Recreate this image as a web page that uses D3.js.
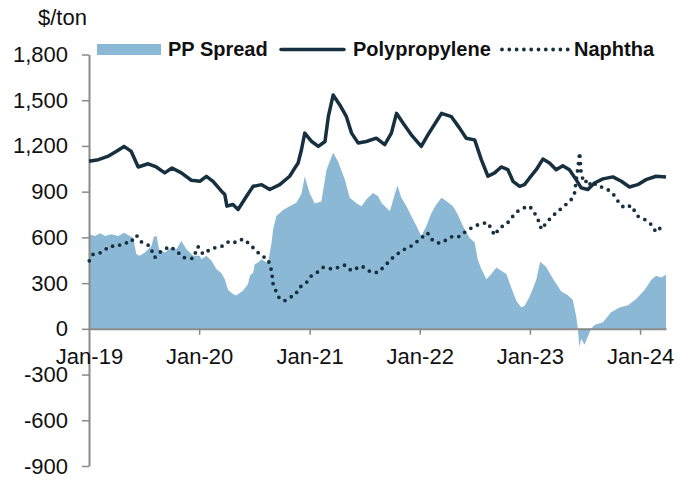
<!DOCTYPE html>
<html><head><meta charset="utf-8">
<script src="https://cdn.jsdelivr.net/npm/d3@7"></script>
<style>body{margin:0;background:#fff}svg{display:block;font-family:"Liberation Sans",Arial,sans-serif}</style>
</head><body><svg id="c" width="691" height="483"></svg>
<script>
const seriesNames = ["PP Spread", "Polypropylene", "Naphtha"];
const yTicks = [-900, -600, -300, 0, 300, 600, 900, 1200, 1500, 1800];
const xTicks = ["2019-01-01","2020-01-01","2021-01-01","2022-01-01","2023-01-01","2024-01-01"];
const unitLabel = "$/ton";

const ppDates = ["2019-01-01","2019-02-01","2019-03-04","2019-04-01","2019-04-27","2019-05-21","2019-06-13","2019-07-16","2019-08-12","2019-09-09","2019-10-03","2019-11-03","2019-12-06","2020-01-03","2020-01-25","2020-02-16","2020-03-15","2020-03-26","2020-04-02","2020-04-22","2020-05-09","2020-06-06","2020-06-28","2020-07-26","2020-08-22","2020-09-24","2020-10-27","2020-11-13","2020-11-24","2020-12-05","2020-12-16","2021-01-08","2021-01-30","2021-02-21","2021-03-04","2021-03-20","2021-04-11","2021-05-03","2021-05-20","2021-06-11","2021-07-08","2021-08-10","2021-09-07","2021-09-29","2021-10-16","2021-11-07","2021-12-04","2022-01-06","2022-01-28","2022-02-25","2022-03-14","2022-04-16","2022-05-13","2022-06-04","2022-07-02","2022-07-24","2022-08-15","2022-09-06","2022-09-28","2022-10-20","2022-11-06","2022-11-28","2022-12-14","2022-12-31","2023-01-22","2023-02-13","2023-03-07","2023-03-29","2023-04-20","2023-05-12","2023-06-03","2023-06-20","2023-07-12","2023-08-03","2023-08-31","2023-10-03","2023-10-31","2023-11-27","2023-12-24","2024-01-21","2024-02-23","2024-03-27"];
const ppValues = [1100,1110,1131,1164,1197,1164,1062,1083,1062,1023,1055,1023,975,968,1001,968,903,881,805,816,783,870,935,946,914,946,1001,1055,1088,1175,1284,1229,1197,1229,1392,1534,1469,1392,1284,1219,1229,1251,1208,1284,1414,1349,1273,1197,1273,1360,1414,1392,1317,1251,1240,1110,1001,1023,1062,1044,968,935,946,990,1044,1114,1088,1044,1070,1044,979,925,914,957,984,997,968,931,946,979,1001,997];

const naDates = ["2019-01-02","2019-01-15","2019-02-12","2019-03-11","2019-04-02","2019-04-30","2019-05-16","2019-06-07","2019-06-24","2019-07-21","2019-08-07","2019-08-29","2019-09-26","2019-10-18","2019-11-09","2019-12-12","2019-12-28","2020-01-14","2020-02-11","2020-03-20","2020-04-11","2020-05-03","2020-05-25","2020-06-17","2020-07-08","2020-07-26","2020-08-16","2020-08-28","2020-09-02","2020-09-13","2020-09-24","2020-10-11","2020-10-27","2020-11-13","2020-11-29","2020-12-22","2021-01-07","2021-01-29","2021-02-15","2021-03-20","2021-04-28","2021-05-20","2021-06-22","2021-07-25","2021-08-16","2021-09-07","2021-10-04","2021-11-01","2021-12-04","2022-01-01","2022-01-26","2022-02-14","2022-03-08","2022-03-30","2022-04-21","2022-05-13","2022-06-04","2022-07-02","2022-07-24","2022-08-15","2022-09-06","2022-09-23","2022-10-15","2022-11-06","2022-11-22","2022-12-12","2022-12-31","2023-01-16","2023-02-02","2023-02-08","2023-03-01","2023-03-29","2023-04-25","2023-05-18","2023-05-29","2023-06-09","2023-06-15","2023-06-20","2023-07-01","2023-07-12","2023-07-23","2023-08-08","2023-08-31","2023-09-16","2023-10-08","2023-10-25","2023-11-10","2023-12-03","2023-12-24","2024-01-16","2024-02-07","2024-02-23","2024-03-05","2024-03-21"];
const naValues = [446,490,501,544,540,566,561,614,570,544,468,511,540,511,468,461,540,490,527,544,577,566,590,555,511,479,457,381,294,240,196,185,207,218,272,305,348,374,403,392,418,381,413,370,370,413,468,511,544,587,631,577,561,583,609,605,642,674,692,696,614,664,685,740,772,794,805,762,696,653,707,762,805,849,892,1055,1157,1012,957,979,935,953,925,914,875,822,794,809,740,718,685,635,657,674];

const spDates = ["2019-01-01","2019-01-21","2019-02-07","2019-02-23","2019-03-17","2019-04-08","2019-04-28","2019-05-16","2019-05-27","2019-06-07","2019-06-18","2019-07-05","2019-07-27","2019-08-04","2019-08-13","2019-08-21","2019-09-09","2019-10-01","2019-10-18","2019-11-03","2019-11-20","2019-12-12","2020-01-03","2020-01-09","2020-01-25","2020-02-11","2020-02-27","2020-03-15","2020-03-26","2020-04-06","2020-04-22","2020-05-03","2020-05-25","2020-06-11","2020-06-17","2020-06-28","2020-07-03","2020-07-14","2020-07-26","2020-08-16","2020-08-28","2020-09-02","2020-09-13","2020-10-05","2020-10-27","2020-11-18","2020-12-05","2020-12-16","2021-01-01","2021-01-18","2021-02-09","2021-02-26","2021-03-20","2021-04-05","2021-04-11","2021-04-28","2021-05-14","2021-06-06","2021-06-22","2021-07-08","2021-07-30","2021-08-16","2021-08-27","2021-09-24","2021-10-10","2021-10-19","2021-11-01","2021-11-18","2021-12-04","2021-12-21","2022-01-06","2022-01-23","2022-02-09","2022-02-25","2022-03-14","2022-03-30","2022-04-21","2022-05-07","2022-05-24","2022-06-15","2022-07-02","2022-07-12","2022-07-24","2022-08-10","2022-08-26","2022-09-12","2022-09-28","2022-10-15","2022-10-31","2022-11-17","2022-12-03","2022-12-14","2022-12-31","2023-01-22","2023-02-04","2023-02-24","2023-03-18","2023-04-15","2023-05-07","2023-05-23","2023-06-03","2023-06-09","2023-06-14","2023-06-20","2023-07-01","2023-07-12","2023-07-23","2023-08-03","2023-08-31","2023-09-27","2023-10-25","2023-11-22","2023-12-19","2024-01-16","2024-02-07","2024-02-23","2024-03-11","2024-03-27"];
const spValues = [620,609,627,609,620,609,631,609,598,490,479,501,544,605,609,522,501,533,522,577,522,479,479,457,480,446,392,365,326,255,228,218,250,294,348,370,424,435,457,430,566,650,740,780,805,827,885,1000,892,822,835,1044,1155,1099,1066,979,860,822,805,849,892,870,827,772,881,940,860,805,740,674,609,674,762,816,860,838,805,751,674,598,566,457,392,326,359,403,381,359,272,185,142,150,210,320,440,405,330,245,220,190,87,0,-120,-65,-105,-50,0,25,44,109,140,155,195,255,320,348,337,355];

const colors = {spread: "#8bb8d4", line: "#17303f", axis: "#8a8a8a", text: "#111"};

const parse = d3.timeParse("%Y-%m-%d");
const pp = ppDates.map((d, i) => ({date: parse(d), v: ppValues[i]}));
const na = naDates.map((d, i) => ({date: parse(d), v: naValues[i]}));
const sp = spDates.map((d, i) => ({date: parse(d), v: spValues[i]}));

const svg = d3.select("#c");
const x = d3.scaleTime().domain([parse("2019-01-01"), parse("2024-03-27")]).range([89, 666]);
const y = d3.scaleLinear().domain([-900, 1800]).range([466, 54.5]);

svg.append("path").datum(sp)
  .attr("fill", colors.spread)
  .attr("d", d3.area().x(d => x(d.date)).y0(y(0)).y1(d => y(d.v)));

// axes
const fmt = d => d3.format(",")(d).replace("\u2212", "-");
const yAxis = svg.append("g").attr("transform", "translate(89,0)")
  .call(d3.axisLeft(y).tickValues(yTicks).tickFormat(fmt).tickSize(7).tickPadding(14).tickSizeOuter(0));
const xAxis = svg.append("g").attr("transform", `translate(0,${y(0)})`)
  .call(d3.axisBottom(x).tickValues(xTicks.map(parse)).tickFormat(d3.timeFormat("%b-%y")).tickSize(6).tickPadding(14).tickSizeOuter(0));
[yAxis, xAxis].forEach(g => {
  g.select(".domain").attr("stroke", colors.axis).attr("stroke-width", 2);
  g.selectAll(".tick line").attr("stroke", colors.axis).attr("stroke-width", 1.5);
  g.selectAll(".tick text").attr("fill", colors.text).style("font-size", "22px").style("font-family", "'Liberation Sans', Arial, sans-serif");
});
xAxis.select(".tick line").attr("stroke-opacity", 0);

const line = d3.line().x(d => x(d.date)).y(d => y(d.v));
svg.append("path").datum(pp).attr("fill", "none").attr("stroke", colors.line)
  .attr("stroke-width", 3.5).attr("stroke-linejoin", "round").attr("d", line);
svg.append("path").datum(na).attr("fill", "none").attr("stroke", colors.line)
  .attr("stroke-width", 3.8).attr("stroke-linecap", "round").attr("stroke-dasharray", "0,7.4").attr("d", line);

// unit label
svg.append("text").attr("x", 38).attr("y", 25).attr("fill", colors.text)
  .style("font-size", "22px").text(unitLabel);

// legend
const lg = svg.append("g").style("font-size", "20px").style("font-weight", "bold").attr("fill", colors.text);
lg.append("rect").attr("x", 97).attr("y", 44).attr("width", 64).attr("height", 11).attr("fill", colors.spread);
lg.append("text").attr("x", 168).attr("y", 55.5).text(seriesNames[0]);
lg.append("line").attr("x1", 281).attr("x2", 344).attr("y1", 49.5).attr("y2", 49.5)
  .attr("stroke", colors.line).attr("stroke-width", 3.5).attr("stroke-linecap", "round");
lg.append("text").attr("x", 353).attr("y", 55.5).text(seriesNames[1]);
lg.append("line").attr("x1", 502).attr("x2", 568).attr("y1", 49.5).attr("y2", 49.5)
  .attr("stroke", colors.line).attr("stroke-width", 3.8).attr("stroke-linecap", "round").attr("stroke-dasharray", "0,7.3");
lg.append("text").attr("x", 574).attr("y", 55.5).text(seriesNames[2]);
</script></body></html>
